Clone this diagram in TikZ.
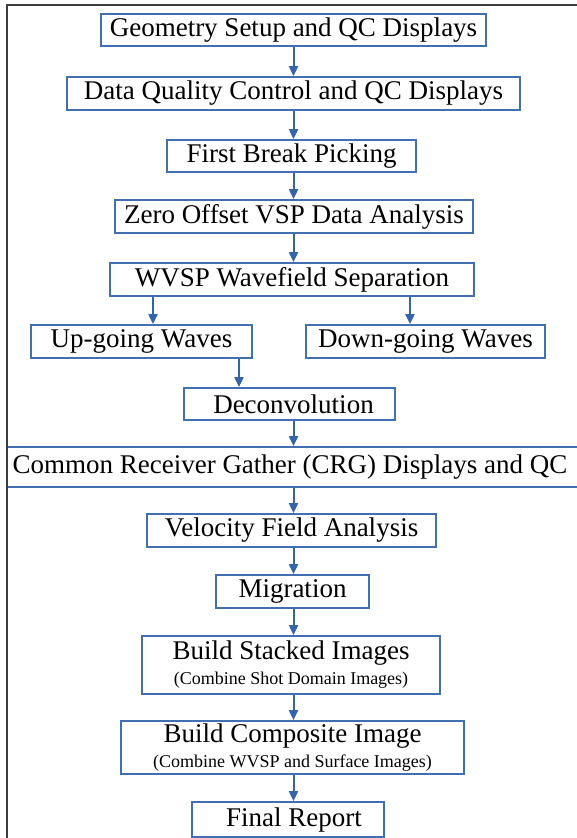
\documentclass[tikz,border=0pt]{standalone}
\usepackage{fontspec}
\setmainfont{Liberation Serif}
\usetikzlibrary{arrows.meta}
\definecolor{boxblue}{RGB}{66,110,178}
\definecolor{arrblue}{RGB}{52,100,172}
\definecolor{framegray}{RGB}{60,60,60}
\tikzset{
  stepbox/.style={draw=boxblue, line width=1.8pt, inner sep=0pt, align=center,
    font=\fontsize{27}{30}\selectfont, text=black},
  flow/.style={draw=arrblue, line width=2pt,
    -{Triangle[width=9pt,length=10pt]}},
}
\newcommand{\subline}[1]{\\[-5pt]{\fontsize{18}{20}\selectfont #1}}
\begin{document}
\begin{tikzpicture}[x=1pt,y=-1pt]
\useasboundingbox (0,0) rectangle (576,838);
\fill[white] (-10,-10) rectangle (586,848);

% processing steps
\node[stepbox, minimum width=385, minimum height=32] (geo) at (293.5,30) {Geometry Setup and QC Displays};
\node[stepbox, minimum width=453, minimum height=33] (dq)  at (293.5,93.5) {Data Quality Control and QC Displays};
\node[stepbox, minimum width=249, minimum height=32] (fb)  at (291.5,156) {First Break Picking};
\node[stepbox, minimum width=358, minimum height=33] (zo)  at (294,216.5) {Zero Offset VSP Data Analysis};
\node[stepbox, minimum width=364, minimum height=33] (wv)  at (292,279.5) {WVSP Wavefield Separation};
\node[stepbox, minimum width=221, minimum height=33] (up)  at (141.5,341.5) {Up-going Waves};
\node[stepbox, minimum width=239, minimum height=33] (down) at (425.5,341.5) {Down-going Waves};
\node[stepbox, minimum width=211, minimum height=32] (dec) at (289.5,404) {\hspace*{8pt}Deconvolution};
% the wide gather step runs from the frame past the right margin
\node[stepbox, minimum width=583, minimum height=40] (crg) at (298.5,467) {\hspace*{-17pt}Common Receiver Gather (CRG) Displays and QC};
\node[stepbox, minimum width=289, minimum height=33] (vel) at (291.5,530.5) {Velocity Field Analysis};
\node[stepbox, minimum width=153, minimum height=33] (mig) at (292.5,591.5) {Migration};
\node[stepbox, minimum width=298, minimum height=58] (stk) at (291,665) {Build Stacked Images\subline{(Combine Shot Domain Images)}};
\node[stepbox, minimum width=343, minimum height=53] (cmp) at (292.5,747.5) {Build Composite Image\subline{(Combine WVSP and Surface Images)}};
\node[stepbox, minimum width=192, minimum height=35] (fin) at (288,819.5) {\hspace*{12pt}Final Report};

% connectors
\draw[flow] (geo.south) -- (geo.south |- dq.north);
\draw[flow] (dq.south) -- (dq.south |- fb.north);
\draw[flow] (dq.south |- fb.south) -- (dq.south |- zo.north);
\draw[flow] (dq.south |- zo.south) -- (dq.south |- wv.north);
\draw[flow] (wv.south -| 153,0) -- (up.north -| 153,0);
\draw[flow] (wv.south -| 410,0) -- (down.north -| 410,0);
\draw[flow] (up.south -| 239,0) -- (dec.north -| 239,0);
\draw[flow] (dec.south -| dq.south) -- (crg.north -| dq.south);
\draw[flow] (crg.south -| dq.south) -- (vel.north -| dq.south);
\draw[flow] (vel.south -| dq.south) -- (mig.north -| dq.south);
\draw[flow] (mig.south -| dq.south) -- (stk.north -| dq.south);
\draw[flow] (stk.south -| dq.south) -- (cmp.north -| dq.south);
\draw[flow] (cmp.south -| dq.south) -- (fin.north -| dq.south);

% outer frame
\draw[framegray, line width=2.5pt] (7,845) -- (7,5) -- (585,5);
\end{tikzpicture}
\end{document}
